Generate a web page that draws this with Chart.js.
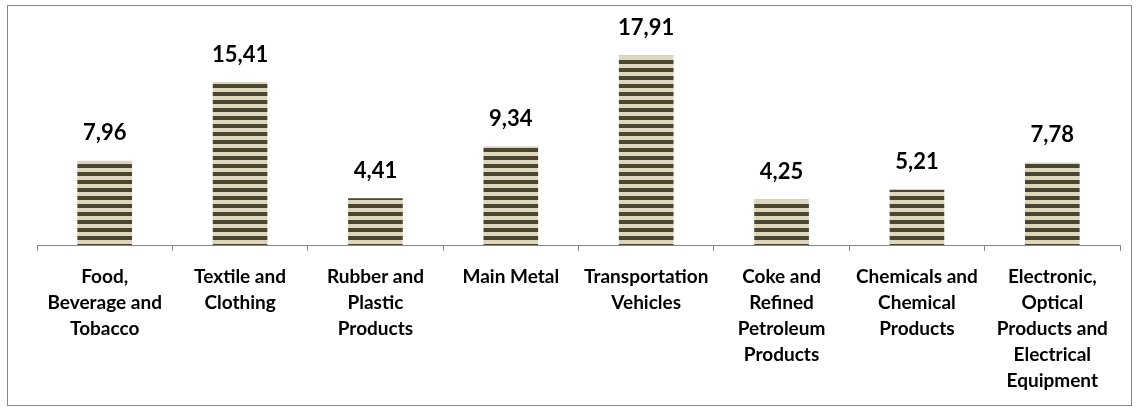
<!DOCTYPE html>
<html>
<head>
<meta charset="utf-8">
<script src="https://cdn.jsdelivr.net/npm/chart.js@4"></script>
<style>
  html, body { margin: 0; padding: 0; background: #fff; }
  #wrap { width: 1137px; height: 407px; position: relative; }
</style>
</head>
<body>
<div id="wrap"><canvas id="myChart" width="1137" height="407"></canvas></div>
<script>
const categories = [
  ["Food,", "Beverage and", "Tobacco"],
  ["Textile and", "Clothing"],
  ["Rubber and", "Plastic", "Products"],
  ["Main Metal"],
  ["Transportation", "Vehicles"],
  ["Coke and", "Refined", "Petroleum", "Products"],
  ["Chemicals and", "Chemical", "Products"],
  ["Electronic,", "Optical", "Products and", "Electrical", "Equipment"]
];
const shares = [7.96, 15.41, 4.41, 9.34, 17.91, 4.25, 5.21, 7.78];

// striped fill like the original
function stripes() {
  const c = document.createElement('canvas');
  c.width = 8; c.height = 8;
  const g = c.getContext('2d');
  g.fillStyle = "#ddd6bd";
  g.fillRect(0, 0, 8, 8);
  g.fillStyle = "#4b4631";
  g.fillRect(0, 4, 8, 4);
  return g.createPattern(c, 'repeat');
}

const frame = {
  id: 'frame',
  afterDraw(chart) {
    const ctx = chart.ctx;
    ctx.save();
    ctx.strokeStyle = "#878787";
    ctx.lineWidth = 1;
    ctx.strokeRect(7.5, 5.5, 1124, 400);
    ctx.restore();
  }
};

const valueLabels = {
  id: 'valueLabels',
  afterDatasetsDraw(chart) {
    const ctx = chart.ctx;
    const meta = chart.getDatasetMeta(0);
    ctx.save();
    ctx.font = "bold 22px Lato, 'Open Sans', sans-serif";
    ctx.fillStyle = "#000";
    ctx.textAlign = "center";
    ctx.textBaseline = "middle";
    meta.data.forEach((bar, i) => {
      ctx.fillText(shares[i].toFixed(2).replace('.', ','), bar.x, bar.y - 28);
    });
    ctx.restore();
  }
};

new Chart("myChart", {
  type: "bar",
  data: {
    labels: categories,
    datasets: [{
      data: shares,
      backgroundColor: stripes(),
      borderWidth: 0,
      barThickness: 54
    }]
  },
  options: {
    responsive: false,
    animation: false,
    layout: { padding: { left: 37, right: 17, top: 34, bottom: 0 } },
    plugins: { legend: { display: false }, tooltip: { enabled: false } },
    scales: {
      y: { display: false, min: 0, max: 20 },
      x: {
        afterFit(scale) { scale.height = 162; },
        border: { color: "#878787", width: 1 },
        grid: { offset: true, drawOnChartArea: false, tickLength: 6, color: "#878787" },
        ticks: {
          color: "#000",
          padding: 13,
          maxRotation: 0,
          autoSkip: false,
          font: { family: "Lato, 'Open Sans', sans-serif", weight: "bold", size: 19, lineHeight: 1.37 }
        }
      }
    }
  },
  plugins: [frame, valueLabels]
});
</script>
</body>
</html>
